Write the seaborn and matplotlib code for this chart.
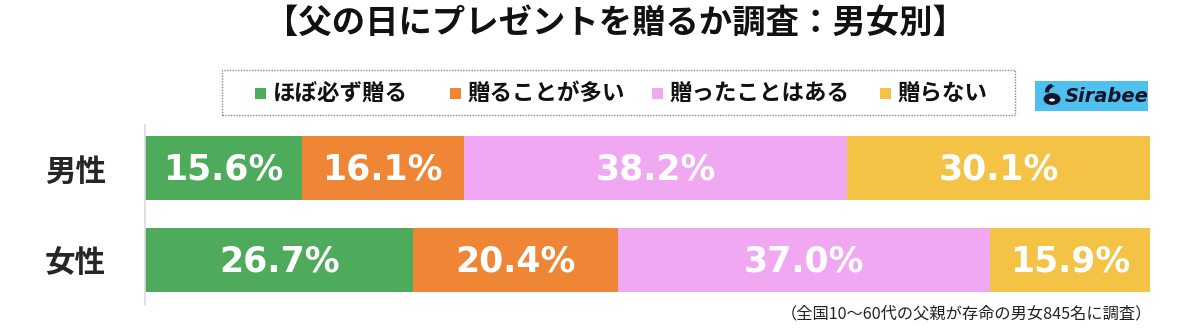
import matplotlib
matplotlib.use("Agg")
import matplotlib.pyplot as plt
from matplotlib.patches import Rectangle, Circle, Ellipse, Arc
import pandas as pd
import seaborn as sns

# ---- data ----
groups = ["男性", "女性"]
answers = ["ほぼ必ず贈る", "贈ることが多い", "贈ったことはある", "贈らない"]
male = [15.6, 16.1, 38.2, 30.1]
female = [26.7, 20.4, 37.0, 15.9]
colors = ["#4dab5b", "#ef8636", "#f0a8f2", "#f4c244"]
title = "【父の日にプレゼントを贈るか調査：男女別】"
note = "（全国10〜60代の父親が存命の男女845名に調査）"

sns.set_theme(style="white")
plt.rcParams["font.family"] = ["Noto Sans CJK JP", "DejaVu Sans"]

rows = []
for g, vals in zip(groups, [male, female]):
    for a, v in zip(answers, vals):
        rows.append({"group": g, "answer": a, "value": v})
df = pd.DataFrame(rows)
df["start"] = df.groupby("group")["value"].cumsum() - df["value"]
df["end"] = df["start"] + df["value"]

W, H = 1200, 332
fig = plt.figure(figsize=(W / 100, H / 100), dpi=100)


def fx(px):
    return px / W


def fy(py):
    return 1 - py / H


ax = fig.add_axes([fx(145), fy(305), 1005 / W, 180 / H])

# stacked bars: draw cumulative totals from the last segment back to the first
for a, c in reversed(list(zip(answers, colors))):
    sub = df[df["answer"] == a]
    sns.barplot(data=sub, x="end", y="group", order=groups, color=c,
                saturation=1, width=0.69, linewidth=0, orient="h", ax=ax)

# segment value labels
for i, g in enumerate(groups):
    for _, r in df[df["group"] == g].iterrows():
        ax.text((r["start"] + r["end"]) / 2, i + 0.02, f"{r['value']:.1f}%",
                ha="center", va="center", color="white", fontsize=25,
                fontweight="bold", family="DejaVu Sans")

ax.set_xlim(0, 100)
ax.set_ylim(1.49, -0.467)
ax.set_xlabel("")
ax.set_ylabel("")
ax.set_xticks([])
ax.tick_params(axis="y", length=0, pad=28, labelsize=22)
for lab in ax.get_yticklabels():
    lab.set_fontweight("bold")
for s in ["top", "right", "bottom"]:
    ax.spines[s].set_visible(False)
ax.spines["left"].set_color("#dcdcdc")
ax.spines["left"].set_linewidth(1.2)

# title
fig.text(fx(615), fy(23), title, ha="center", va="center",
         fontsize=24, fontweight="bold", color="#111111")

# legend: dotted frame with colour keys
fig.patches.append(Rectangle((fx(222), fy(115)), 793 / W, 45 / H,
                             transform=fig.transFigure, fill=False,
                             edgecolor="#888888", linestyle=(0, (1, 1)),
                             linewidth=1.0))
key_x = [255, 450, 652, 880]
for kx, a, c in zip(key_x, answers, colors):
    fig.patches.append(Rectangle((fx(kx), fy(99)), 11 / W, 11 / H,
                                 transform=fig.transFigure, facecolor=c,
                                 edgecolor="none"))
    fig.text(fx(kx + 18), fy(93), a, ha="left", va="center",
             fontsize=16.2, fontweight="bold", color="#111111")

# Sirabee badge
fig.patches.append(Rectangle((fx(1035), fy(111)), 113 / W, 30 / H,
                             transform=fig.transFigure, facecolor="#4ec1ef",
                             edgecolor="none"))
ink = "#15152a"
fig.patches.append(Ellipse((fx(1052), fy(99)), 17 / W, 12 / H,
                           transform=fig.transFigure, facecolor=ink,
                           edgecolor="none"))
fig.patches.append(Ellipse((fx(1052), fy(100)), 6 / W, 3 / H,
                           transform=fig.transFigure, facecolor="white",
                           edgecolor="none"))
fig.patches.append(Arc((fx(1052), fy(92)), 10 / W, 12 / H, theta1=90, theta2=200,
                       transform=fig.transFigure, color=ink, linewidth=3))
fig.patches.append(Circle((fx(1052), fy(86)), 2.5 / W,
                          transform=fig.transFigure, facecolor=ink,
                          edgecolor="none"))
fig.text(fx(1065), fy(96), "Sirabee", ha="left", va="center",
         fontsize=14, fontweight="bold", fontstyle="italic", color=ink,
         family="DejaVu Sans")

# footnote
fig.text(fx(1152), fy(314), note, ha="right", va="center",
         fontsize=11.7, color="#222222")

fig.savefig("out.png", dpi=100)
